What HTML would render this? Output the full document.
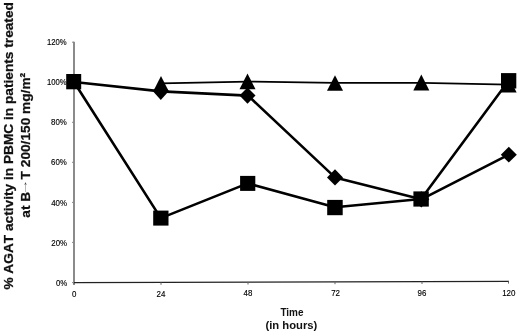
<!DOCTYPE html>
<html><head><meta charset="utf-8"><title>AGAT activity</title>
<style>
html,body{margin:0;padding:0;background:#fff;}
svg{display:block;font-family:"Liberation Sans",Arial,sans-serif;}
.tick{font-size:9px;fill:#000;stroke:#000;stroke-width:0.15px;}
.ttl{font-size:11px;font-weight:bold;fill:#111;}
</style></head><body>
<svg width="520" height="332" viewBox="0 0 520 332">
<rect width="520" height="332" fill="#fff"/>
<!-- axes -->
<g stroke="#2a2a2a" stroke-width="1" fill="none">
<path d="M74 41.8V285" stroke="#222" stroke-width="1.05"/>
<path d="M73.5 282.6L509 281.4" stroke="#222" stroke-width="1.1"/>
<path stroke="#888" d="M72 42.2H74M72 82.2H74M72 122.3H74M72 162.3H74M72 202.4H74M72 242.4H74M72 282.6H74"/>
<path stroke="#666" d="M161 282.4V284.8M248 282.1V284.5M335 281.9V284.2M422 281.6V284M508.5 281.4V283.6"/>
</g>
<!-- y labels -->
<g class="tick" text-anchor="end" style="font-size:9.4px">
<text x="66.6" y="45" textLength="19.7" lengthAdjust="spacingAndGlyphs">120%</text>
<text x="66.7" y="85.2" textLength="19.7" lengthAdjust="spacingAndGlyphs">100%</text>
<text x="66.8" y="125.3" textLength="15.8" lengthAdjust="spacingAndGlyphs">80%</text>
<text x="66.9" y="165.4" textLength="15.8" lengthAdjust="spacingAndGlyphs">60%</text>
<text x="67" y="205.5" textLength="15.8" lengthAdjust="spacingAndGlyphs">40%</text>
<text x="67.1" y="245.6" textLength="15.8" lengthAdjust="spacingAndGlyphs">20%</text>
<text x="67.2" y="285.7" textLength="11.3" lengthAdjust="spacingAndGlyphs">0%</text>
</g>
<!-- x labels -->
<g class="tick" text-anchor="middle">
<text x="74.2" y="297.1" textLength="4.4" lengthAdjust="spacingAndGlyphs">0</text>
<text x="161" y="296.6" textLength="8.8" lengthAdjust="spacingAndGlyphs">24</text>
<text x="248" y="296.4" textLength="8.8" lengthAdjust="spacingAndGlyphs">48</text>
<text x="335.6" y="296.2" textLength="8.8" lengthAdjust="spacingAndGlyphs">72</text>
<text x="422" y="296.05" textLength="8.8" lengthAdjust="spacingAndGlyphs">96</text>
<text x="508.8" y="295.9" textLength="13.3" lengthAdjust="spacingAndGlyphs">120</text>
</g>
<!-- lines -->
<g fill="none" stroke="#000" stroke-linejoin="round">
<polyline stroke-width="1.7" points="161,83.3 248,81.6 335,82.9 422,82.9 508.6,84.6"/>
<polyline stroke-width="2.6" points="74,82 161,91.4 248,95.6 335,177.4 421.3,199.3 508.8,154.6"/>
<polyline stroke-width="2.6" points="74,82 160.8,218.1 247.7,183.4 335,207.2 421.1,199 508.6,80.8"/>
</g>
<!-- markers -->
<g fill="#000">
<!-- triangles -->
<path d="M161 76l8 15.7h-16z"/>
<path d="M247.5 73.6l8 15.6h-16z"/>
<path d="M335 75.2l8 15.6h-16z"/>
<path d="M421.3 74.6l8 16h-16z"/>
<path d="M508.6 76.6l8 15.8h-16z"/>
<!-- diamonds -->
<path d="M160.8 82.7l8.1 8.4-8.1 8.8-8.1-8.8z"/>
<path d="M247.5 87.4l8 8.2-8 8.2-8-8.2z"/>
<path d="M335 169.3l8 8.1-8 8.1-8-8.1z"/>
<path d="M421.3 191.2l8 8.1-8 8.1-8-8.1z"/>
<path d="M508.8 146.8l8 7.9-8 7.9-8-7.9z"/>
<!-- squares -->
<rect x="66.2" y="74" width="15" height="15.3"/>
<rect x="153.2" y="210.6" width="15.3" height="15"/>
<rect x="240.1" y="175.9" width="15.2" height="15"/>
<rect x="327.2" y="199.9" width="15.5" height="15.3"/>
<rect x="413.4" y="191.4" width="15.4" height="15.2"/>
<rect x="501" y="73.1" width="15.3" height="15.4"/>
</g>
<!-- titles -->
<g class="ttl" text-anchor="middle">
<text x="292" y="315.7" textLength="23.1" lengthAdjust="spacingAndGlyphs">Time</text>
<text x="291.4" y="329.2" textLength="51.9" lengthAdjust="spacingAndGlyphs">(in hours)</text>
</g>
<g class="ttl" style="font-size:13.7px;stroke:#111;stroke-width:0.25px;font-kerning:none">
<text transform="translate(12.7,289.6) rotate(-90)">% AGAT activity in PBMC in patients treated</text>
<text transform="translate(30,217.7) rotate(-90)">at B</text>
<text transform="translate(30,179.4) rotate(-90)">T 200/150 mg/m²</text>
</g>
<text transform="translate(26.6,195.3) rotate(-90)" textLength="16.3" lengthAdjust="spacingAndGlyphs" style="font-size:9px;font-weight:normal;fill:#444">→</text>
</svg>
</body></html>
